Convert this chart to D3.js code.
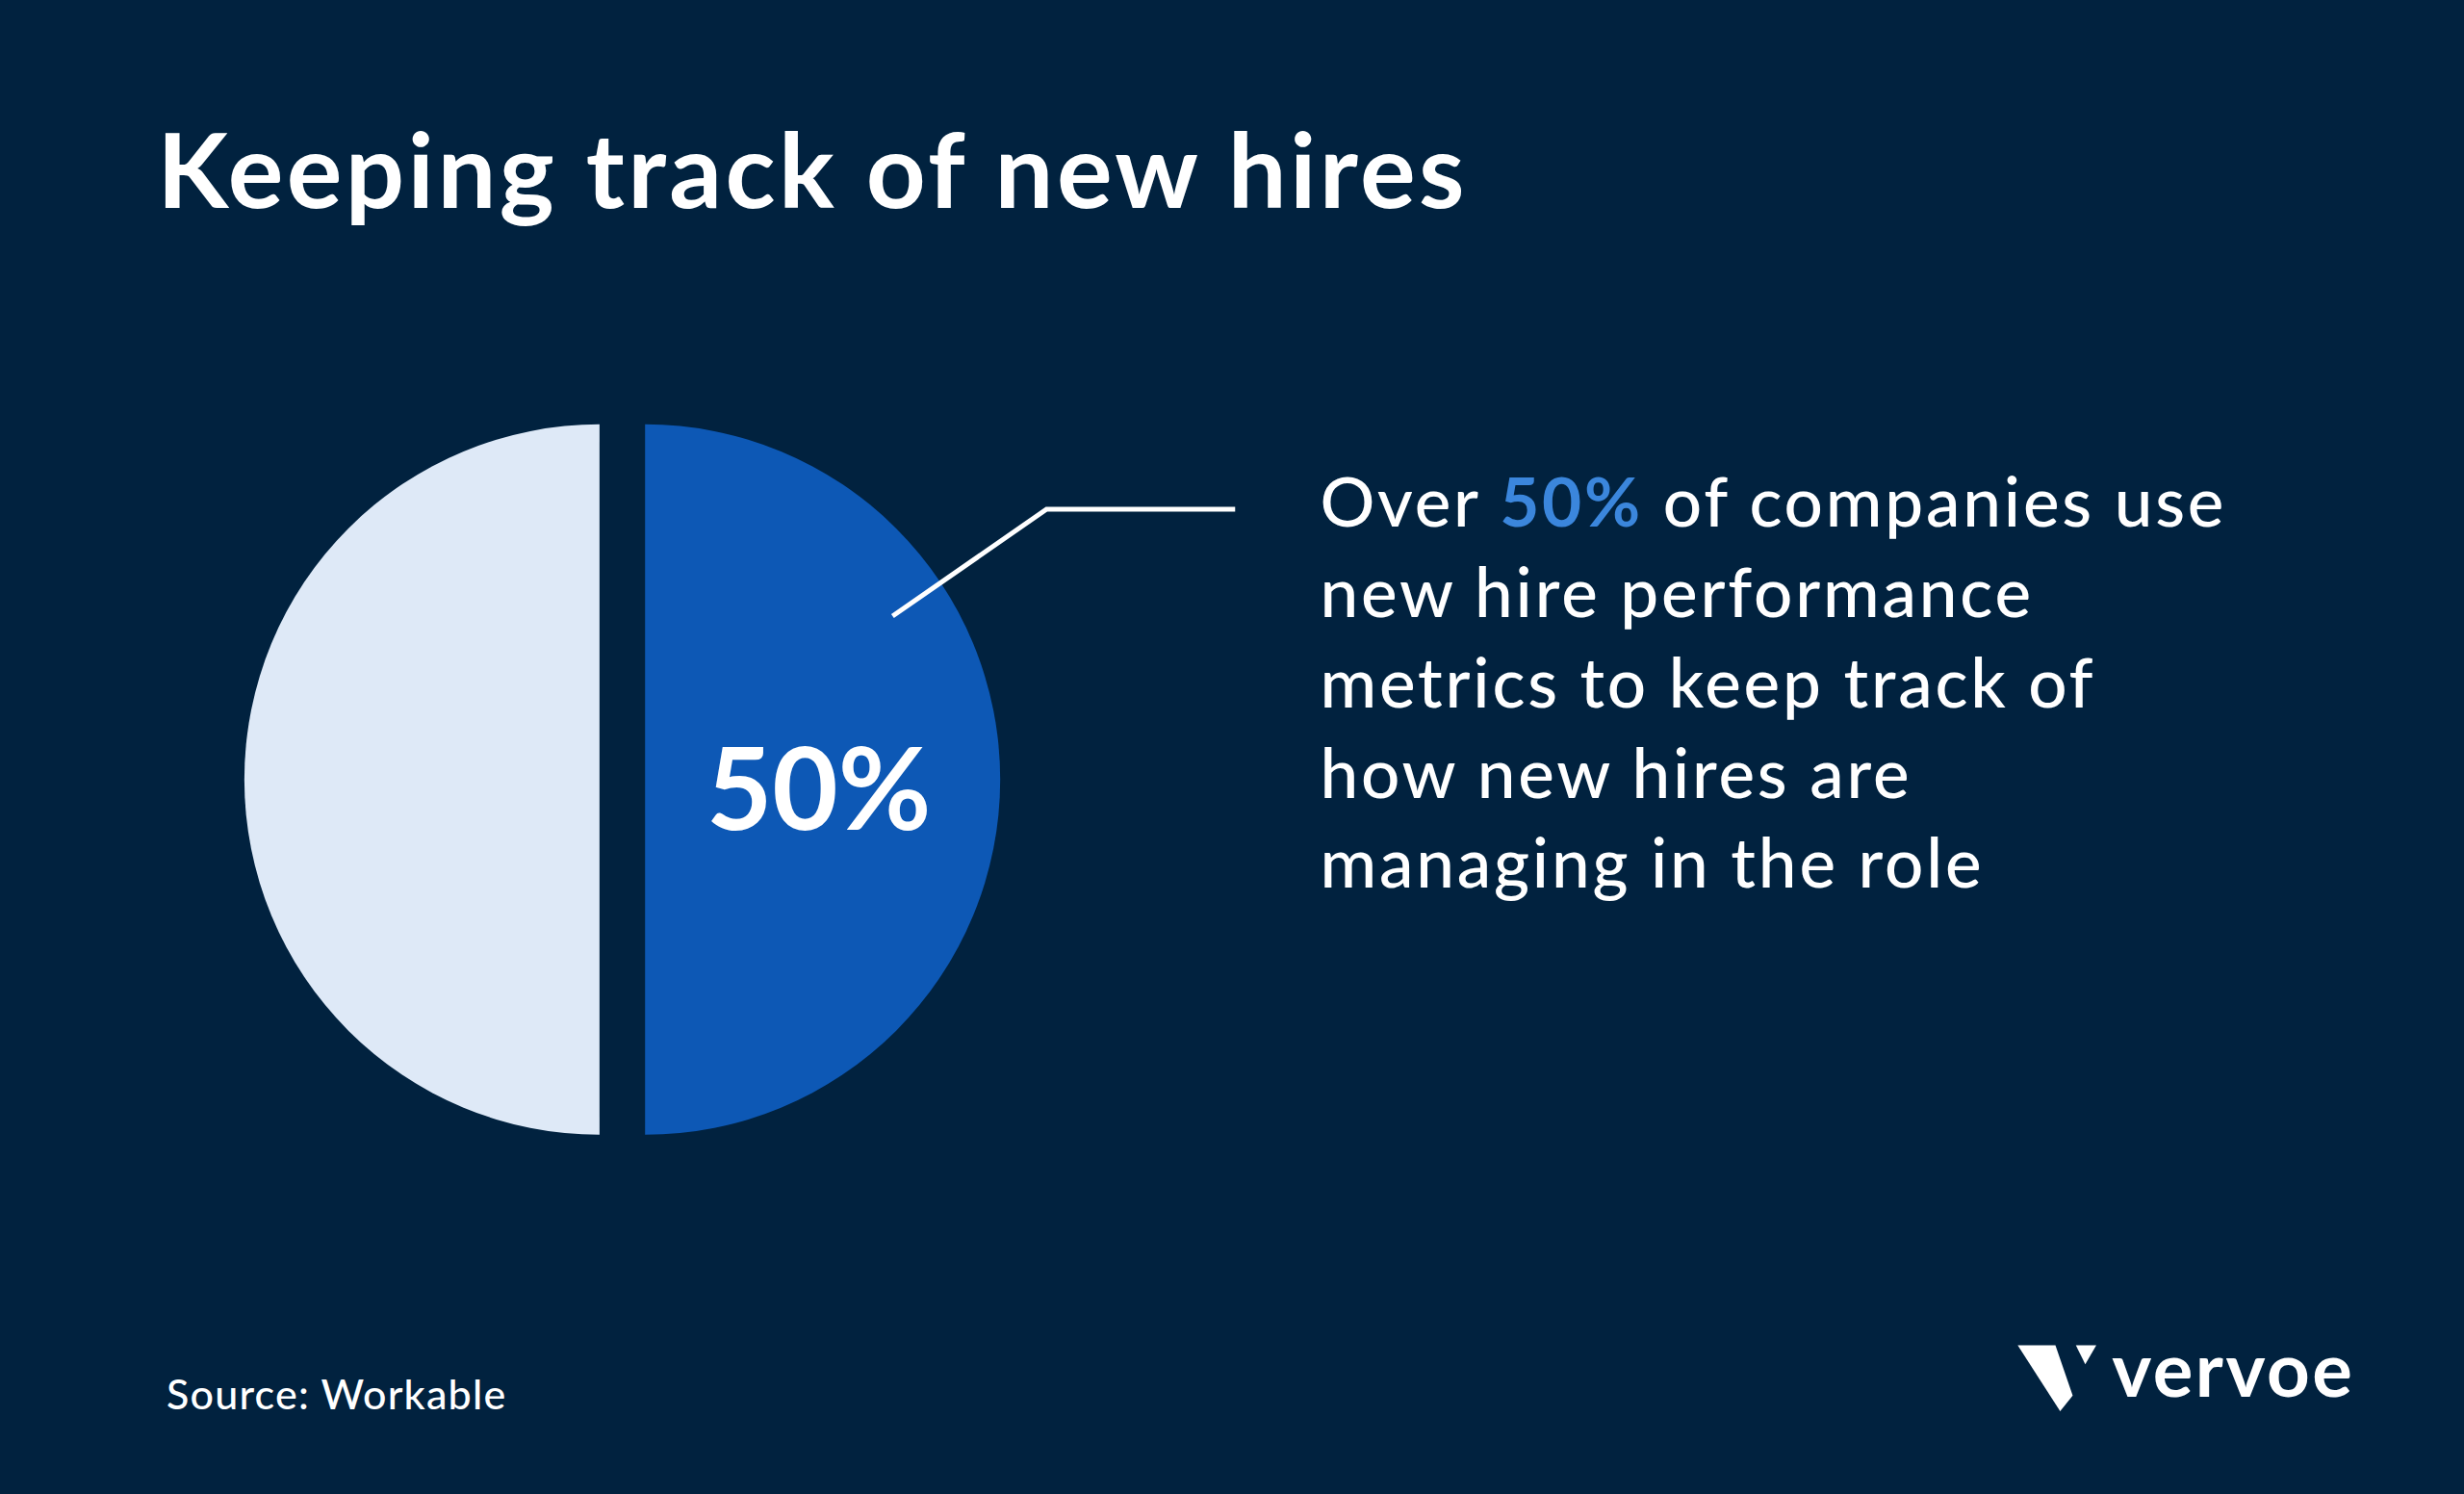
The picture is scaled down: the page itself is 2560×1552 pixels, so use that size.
<!DOCTYPE html>
<html><head><meta charset="utf-8">
<script src="https://cdn.jsdelivr.net/npm/d3@7"></script>
<style>body{margin:0;background:#01223f;}svg{display:block;}</style>
</head><body>
<svg id="chart" width="2560" height="1552"></svg>
<script>
const categories = ["Other", "Use new hire performance metrics"];
const values = [50, 50];
const colors = ["#dee9f7", "#0d58b5"];
const bodyLines = [
  [["Over ", "#fff"], ["50%", "#3b86dc"], [" of companies use", "#fff"]],
  [["new hire performance", "#fff"]],
  [["metrics to keep track of", "#fff"]],
  [["how new hires are", "#fff"]],
  [["managing in the role", "#fff"]]
];

const svg = d3.select("#chart");
const font = "Lato, 'Open Sans', sans-serif";
const S = 2560 / 1568;

svg.append("rect").attr("width", 2560).attr("height", 1552).attr("fill", "#01223f");

svg.append("text").attr("x", 100 * S).attr("y", 132 * S)
  .attr("font-family", font).attr("font-weight", 700).attr("font-size", 108)
  .attr("letter-spacing", 3.4)
  .attr("fill", "#fff").text("Keeping track of new hires");

// pie
const cx = 396 * S, cy = 496 * S, r = 226 * S, gap = 14.5 * S;
const pie = d3.pie().sort(null).startAngle(0).endAngle(2 * Math.PI);
const arc = d3.arc().innerRadius(0).outerRadius(r);
// blue slice on the right, light slice on the left
const g = svg.append("g").attr("transform", `translate(${cx},${cy})`);
g.selectAll("path").data(pie([values[1], values[0]])).join("path")
  .attr("d", arc)
  .attr("transform", (d, i) => `translate(${i === 0 ? gap : -gap},0)`)
  .attr("fill", (d, i) => i === 0 ? colors[1] : colors[0]);

g.append("text").attr("x", gap + r * 0.5 - 4).attr("y", 528 * S - cy)
  .attr("text-anchor", "middle").attr("font-family", font).attr("font-weight", 700)
  .attr("font-size", 118).attr("fill", "#fff").text(values[1] + "%");

// leader
svg.append("polyline")
  .attr("points", [[568, 392], [666, 324], [786, 324]].map(p => p.map(v => v * S).join(",")).join(" "))
  .attr("fill", "none").attr("stroke", "#fff").attr("stroke-width", 5);

// body text
const body = svg.append("text").attr("font-family", font).attr("font-weight", 500)
  .attr("font-size", 71).attr("letter-spacing", 2.8).attr("fill", "#fff");
bodyLines.forEach((line, i) => {
  line.forEach(([t, c], j) => {
    const ts = body.append("tspan").attr("fill", c).attr("font-weight", c === "#fff" ? 500 : 700).text(t);
    if (j === 0) ts.attr("x", 840 * S).attr("y", (335 + i * 57.5) * S);
  });
});

svg.append("text").attr("x", 106 * S).attr("y", 897 * S)
  .attr("font-family", font).attr("font-weight", 500).attr("font-size", 43)
  .attr("letter-spacing", 1.2)
  .attr("fill", "#fff").text("Source: Workable");

// logo
const lg = svg.append("g").attr("fill", "#fff");
lg.append("path").attr("d", [[1284, 856], [1308, 856], [1319, 888], [1311, 898]].map((p, i) => (i ? "L" : "M") + p[0] * S + "," + p[1] * S).join("") + "Z");
lg.append("path").attr("d", [[1321, 856], [1334, 856], [1327, 868]].map((p, i) => (i ? "L" : "M") + p[0] * S + "," + p[1] * S).join("") + "Z");
lg.append("text").attr("x", 1344 * S).attr("y", 889 * S)
  .attr("font-family", font).attr("font-weight", 700).attr("font-size", 78)
  .attr("letter-spacing", 2.5).text("vervoe");
</script>
</body></html>
